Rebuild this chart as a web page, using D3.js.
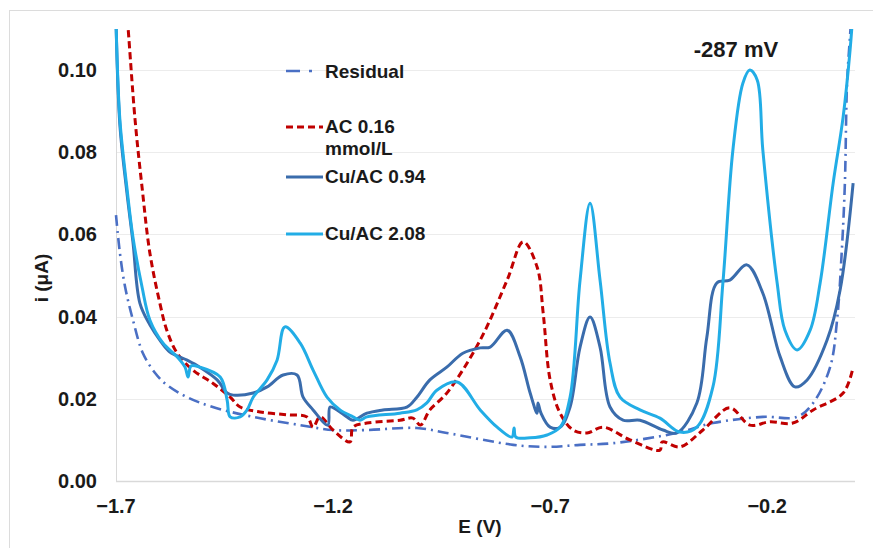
<!DOCTYPE html>
<html>
<head>
<meta charset="utf-8">
<script src="https://cdn.jsdelivr.net/npm/d3@7"></script>
<style>
  body { margin: 0; background: #fff; }
  text { font-family: "Liberation Sans", Arial, sans-serif; font-weight: bold; fill: #1a1a1a; }
</style>
</head>
<body>
<div id="holder"></div>
<script>
// potential E (V) and current i (uA)
const residual = [
  [-1.700, 0.0647], [-1.691, 0.0555], [-1.679, 0.0472], [-1.661, 0.0392], [-1.638, 0.0311],
  [-1.610, 0.0263], [-1.583, 0.0234], [-1.536, 0.0204], [-1.477, 0.0180], [-1.384, 0.0156],
  [-1.276, 0.0136], [-1.200, 0.0124], [-1.122, 0.0124], [-1.007, 0.0129], [-0.938, 0.0117],
  [-0.785, 0.0088], [-0.707, 0.0083], [-0.631, 0.0088], [-0.555, 0.0092], [-0.408, 0.0117],
  [-0.325, 0.0141], [-0.210, 0.0156], [-0.131, 0.0156], [-0.094, 0.0190], [-0.055, 0.0277],
  [-0.039, 0.0392], [-0.028, 0.0562], [-0.021, 0.0725], [-0.016, 0.0968], [-0.009, 0.1085],
  [-0.005, 0.1150]
];

const ac016 = [
  [-1.676, 0.1150], [-1.672, 0.1100], [-1.656, 0.0878], [-1.640, 0.0715], [-1.622, 0.0555],
  [-1.599, 0.0433], [-1.583, 0.0367], [-1.559, 0.0311], [-1.523, 0.0270], [-1.477, 0.0238],
  [-1.437, 0.0204], [-1.414, 0.0180], [-1.368, 0.0168], [-1.306, 0.0161], [-1.260, 0.0156],
  [-1.246, 0.0131], [-1.230, 0.0156], [-1.200, 0.0124], [-1.161, 0.0095], [-1.154, 0.0131],
  [-1.122, 0.0141], [-1.046, 0.0148], [-1.016, 0.0153], [-0.999, 0.0136], [-0.977, 0.0173],
  [-0.938, 0.0214], [-0.861, 0.0343], [-0.799, 0.0489], [-0.762, 0.0582], [-0.730, 0.0521],
  [-0.716, 0.0409], [-0.700, 0.0246], [-0.677, 0.0165], [-0.647, 0.0124], [-0.615, 0.0117],
  [-0.578, 0.0131], [-0.516, 0.0100], [-0.447, 0.0075], [-0.442, 0.0095], [-0.401, 0.0083],
  [-0.348, 0.0124], [-0.286, 0.0178], [-0.240, 0.0136], [-0.194, 0.0144], [-0.141, 0.0141],
  [-0.094, 0.0173], [-0.025, 0.0214], [-0.002, 0.0277]
];

const cuac094 = [
  [-1.700, 0.1120], [-1.691, 0.0866], [-1.675, 0.0703], [-1.661, 0.0582], [-1.645, 0.0433],
  [-1.622, 0.0380], [-1.599, 0.0343], [-1.576, 0.0314], [-1.536, 0.0294], [-1.507, 0.0277],
  [-1.467, 0.0246], [-1.444, 0.0214], [-1.430, 0.0209], [-1.384, 0.0214], [-1.352, 0.0229],
  [-1.315, 0.0258], [-1.283, 0.0258], [-1.269, 0.0204], [-1.246, 0.0173], [-1.212, 0.0136],
  [-1.207, 0.0180], [-1.191, 0.0173], [-1.168, 0.0156], [-1.154, 0.0148], [-1.122, 0.0165],
  [-1.085, 0.0173], [-1.030, 0.0180], [-1.007, 0.0204], [-0.977, 0.0246], [-0.938, 0.0277],
  [-0.901, 0.0311], [-0.861, 0.0324], [-0.838, 0.0326], [-0.799, 0.0367], [-0.769, 0.0302],
  [-0.746, 0.0214], [-0.730, 0.0165], [-0.728, 0.0190], [-0.721, 0.0165], [-0.700, 0.0131],
  [-0.677, 0.0131], [-0.654, 0.0180], [-0.631, 0.0326], [-0.608, 0.0399], [-0.585, 0.0326],
  [-0.562, 0.0180], [-0.532, 0.0148], [-0.493, 0.0148], [-0.440, 0.0124], [-0.408, 0.0117],
  [-0.362, 0.0190], [-0.339, 0.0350], [-0.316, 0.0482], [-0.286, 0.0489], [-0.247, 0.0526],
  [-0.210, 0.0457], [-0.170, 0.0302], [-0.136, 0.0229], [-0.108, 0.0246], [-0.062, 0.0343],
  [-0.032, 0.0465], [-0.002, 0.0725]
];

const cuac208 = [
  [-1.700, 0.1120], [-1.691, 0.0878], [-1.675, 0.0715], [-1.661, 0.0594], [-1.640, 0.0472],
  [-1.622, 0.0392], [-1.592, 0.0336], [-1.559, 0.0302], [-1.541, 0.0277], [-1.534, 0.0253],
  [-1.527, 0.0280], [-1.507, 0.0277], [-1.460, 0.0253], [-1.444, 0.0197], [-1.437, 0.0156],
  [-1.414, 0.0156], [-1.398, 0.0173], [-1.384, 0.0204], [-1.352, 0.0246], [-1.329, 0.0294],
  [-1.311, 0.0375], [-1.276, 0.0336], [-1.246, 0.0270], [-1.214, 0.0204], [-1.184, 0.0173],
  [-1.154, 0.0156], [-1.138, 0.0148], [-1.122, 0.0156], [-1.046, 0.0165], [-1.007, 0.0173],
  [-0.984, 0.0190], [-0.961, 0.0221], [-0.914, 0.0241], [-0.861, 0.0173], [-0.822, 0.0131],
  [-0.788, 0.0107], [-0.783, 0.0129], [-0.779, 0.0107], [-0.746, 0.0105], [-0.707, 0.0112],
  [-0.677, 0.0131], [-0.654, 0.0204], [-0.631, 0.0489], [-0.608, 0.0676], [-0.585, 0.0489],
  [-0.562, 0.0287], [-0.539, 0.0204], [-0.493, 0.0173], [-0.447, 0.0153], [-0.401, 0.0119],
  [-0.362, 0.0131], [-0.325, 0.0229], [-0.302, 0.0482], [-0.279, 0.0805], [-0.256, 0.0968],
  [-0.240, 0.1000], [-0.223, 0.0976], [-0.210, 0.0805], [-0.177, 0.0482], [-0.159, 0.0367],
  [-0.131, 0.0319], [-0.101, 0.0367], [-0.078, 0.0482], [-0.048, 0.0725], [-0.025, 0.0886],
  [-0.009, 0.1049], [-0.002, 0.1150]
];

const yTicks = [0.00, 0.02, 0.04, 0.06, 0.08, 0.10];
const xTicks = [-1.7, -1.2, -0.7, -0.2];
const seriesNames = ["Residual", "AC 0.16 mmol/L", "Cu/AC 0.94", "Cu/AC 2.08"];
const peakLabel = "-287 mV";

const width = 873;
const height = 548;
const plotLeft = 116, plotRight = 854, plotTop = 29, plotBottom = 481;

const x = d3.scaleLinear().domain([-1.7, 0.0]).range([plotLeft, plotRight]);
const y = d3.scaleLinear().domain([0, 0.11]).range([plotBottom, plotTop]);

const svg = d3.select("#holder")
    .append("svg")
    .attr("width", width)
    .attr("height", height);

// outer frame of the figure
svg.append("rect")
    .attr("x", 9.5).attr("y", 10.5)
    .attr("width", 880).attr("height", 560)
    .attr("fill", "none")
    .attr("stroke", "#dcdcdc");

svg.append("clipPath").attr("id", "plot-clip")
    .append("rect")
    .attr("x", plotLeft - 2).attr("y", plotTop)
    .attr("width", plotRight - plotLeft + 4).attr("height", plotBottom - plotTop);

// gridlines
svg.append("g")
    .selectAll("line")
    .data(yTicks)
    .enter()
    .append("line")
    .attr("x1", plotLeft).attr("x2", plotRight + 1)
    .attr("y1", (d) => Math.round(y(d)) + 0.5)
    .attr("y2", (d) => Math.round(y(d)) + 0.5)
    .attr("stroke", (d) => d === 0 ? "#d9d9d9" : "#ececec")
    .attr("stroke-width", (d) => d === 0 ? 1.5 : 1);

svg.append("line")
    .attr("x1", plotLeft + 0.5).attr("x2", plotLeft + 0.5)
    .attr("y1", plotTop).attr("y2", plotBottom)
    .attr("stroke", "#d9d9d9");

// tick labels
svg.append("g")
    .selectAll("text")
    .data(yTicks)
    .enter()
    .append("text")
    .attr("x", 97)
    .attr("y", (d) => y(d) + 7)
    .attr("text-anchor", "end")
    .attr("font-size", 20)
    .text((d) => d3.format(".2f")(d));

svg.append("g")
    .selectAll("text")
    .data(xTicks)
    .enter()
    .append("text")
    .attr("x", (d) => x(d))
    .attr("y", 513)
    .attr("text-anchor", "middle")
    .attr("font-size", 20)
    .text((d) => d3.format(".1f")(d));

svg.append("text")
    .attr("x", 480).attr("y", 533)
    .attr("text-anchor", "middle")
    .attr("font-size", 19)
    .text("E (V)");

svg.append("text")
    .attr("transform", "translate(48, 278) rotate(-90)")
    .attr("text-anchor", "middle")
    .attr("font-size", 19)
    .text("i (μA)");

// curves
const line = d3.line()
    .x((d) => x(d[0]))
    .y((d) => y(d[1]))
    .curve(d3.curveCatmullRom.alpha(0.5));

const styles = [
    { data: residual, color: "#4a6fc4", dash: "11 5 2 5", w: 2.6 },
    { data: ac016, color: "#c00000", dash: "7 4", w: 3 },
    { data: cuac094, color: "#3a6cac", dash: null, w: 3 },
    { data: cuac208, color: "#22ade6", dash: null, w: 3 }
];

const plot = svg.append("g").attr("clip-path", "url(#plot-clip)");
plot.selectAll("path")
    .data(styles)
    .enter()
    .append("path")
    .attr("d", (s) => line(s.data))
    .attr("fill", "none")
    .attr("stroke", (s) => s.color)
    .attr("stroke-width", (s) => s.w)
    .attr("stroke-dasharray", (s) => s.dash)
    .attr("stroke-linejoin", "round");

// legend
const legendRows = [
    { y: 71, lines: [seriesNames[0]], base: 78 },
    { y: 127, lines: ["AC 0.16", "mmol/L"], base: 133 },
    { y: 177, lines: [seriesNames[2]], base: 183 },
    { y: 234, lines: [seriesNames[3]], base: 240 }
];

const legend = svg.append("g");
legendRows.forEach((row, i) => {
    legend.append("line")
        .attr("x1", 286).attr("x2", 323)
        .attr("y1", row.y).attr("y2", row.y)
        .attr("stroke", styles[i].color)
        .attr("stroke-width", styles[i].w)
        .attr("stroke-dasharray", i === 0 ? "14 9 3 20" : styles[i].dash);
    row.lines.forEach((t, k) => {
        legend.append("text")
            .attr("x", 325)
            .attr("y", row.base + k * 22)
            .attr("font-size", 19)
            .text(t);
    });
});

svg.append("text")
    .attr("x", 736).attr("y", 57)
    .attr("text-anchor", "middle")
    .attr("font-size", 22)
    .text(peakLabel);
</script>
</body>
</html>
